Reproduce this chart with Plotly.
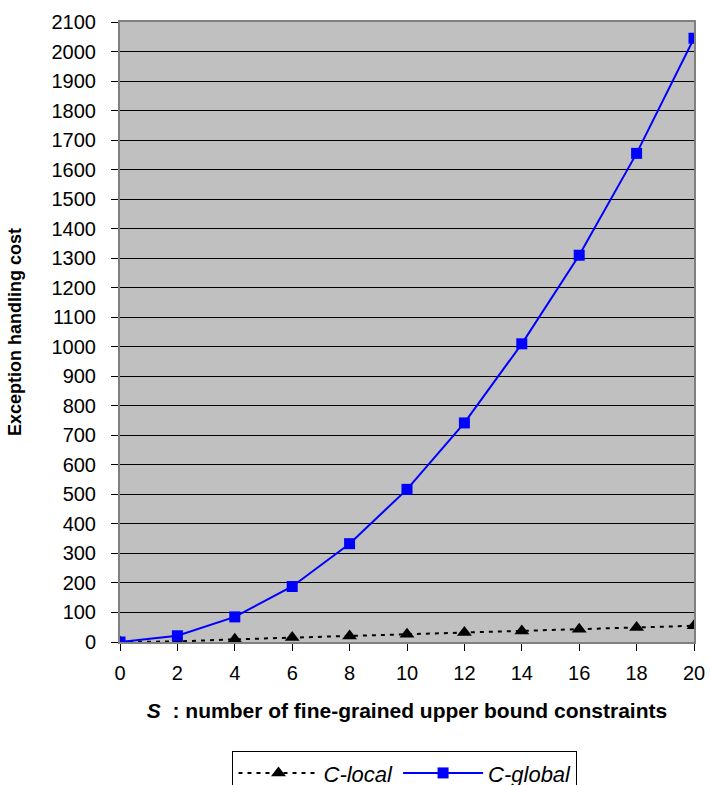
import plotly.graph_objects as go

s_values = [0, 2, 4, 6, 8, 10, 12, 14, 16, 18, 20]
c_local = [0, 2, 9, 15, 20, 26, 32, 37, 43, 49, 55]
c_global = [0, 21, 85, 188, 333, 517, 742, 1010, 1310, 1655, 2045]
y_ticks = list(range(0, 2101, 100))

fig = go.Figure()
fig.add_trace(go.Scatter(
    x=s_values, y=c_local, name="<i>C-local</i>", mode="lines+markers",
    line=dict(color="black", width=2, dash="4px,5px"),
    marker=dict(symbol="triangle-up", size=13, color="black"),
))
fig.add_trace(go.Scatter(
    x=s_values, y=c_global, name="<i>C-global</i>", mode="lines+markers",
    line=dict(color="#0000FF", width=2),
    marker=dict(symbol="square", size=11, color="#0000FF"),
))

font = "Liberation Sans, Arial, sans-serif"
fig.update_layout(
    width=710, height=830,
    margin=dict(l=120, r=16, t=22, b=188),
    paper_bgcolor="white", plot_bgcolor="#C0C0C0",
    font=dict(family=font, size=20, color="black"),
    showlegend=True,
    legend=dict(
        orientation="h", x=0.4965, xanchor="center", y=-0.176, yanchor="top",
        bordercolor="black", borderwidth=1, bgcolor="white",
        font=dict(size=22, family=font), itemwidth=80,
    ),
    xaxis=dict(
        range=[0, 20], tickvals=s_values, ticks="outside", ticklen=7,
        tickcolor="black", showgrid=False, zeroline=False, automargin=False,
        showline=True, linecolor="#808080", linewidth=2, mirror=True,
        tickfont=dict(size=20), ticklabelstandoff=5,
        title=dict(text="<b><i>S</i>  : number of fine-grained upper bound constraints</b>",
                   font=dict(size=21), standoff=20),
    ),
    yaxis=dict(
        range=[0, 2100], tickvals=y_ticks, ticks="outside", ticklen=7,
        tickcolor="black", showgrid=True, gridcolor="black", gridwidth=1,
        zeroline=False, showline=True, linecolor="#808080", linewidth=2, mirror=True,
        automargin=False, ticklabelstandoff=11,
        tickfont=dict(size=20),
        title=dict(text="<b>Exception handling cost</b>", font=dict(size=18), standoff=25),
    ),
)

page_js = ("document.body.style.margin='0px';"
           "document.documentElement.style.overflow='hidden';"
           "document.body.style.overflow='hidden';")
fig.write_html("out.html", post_script=page_js,
               config={"displayModeBar": False, "staticPlot": True})
